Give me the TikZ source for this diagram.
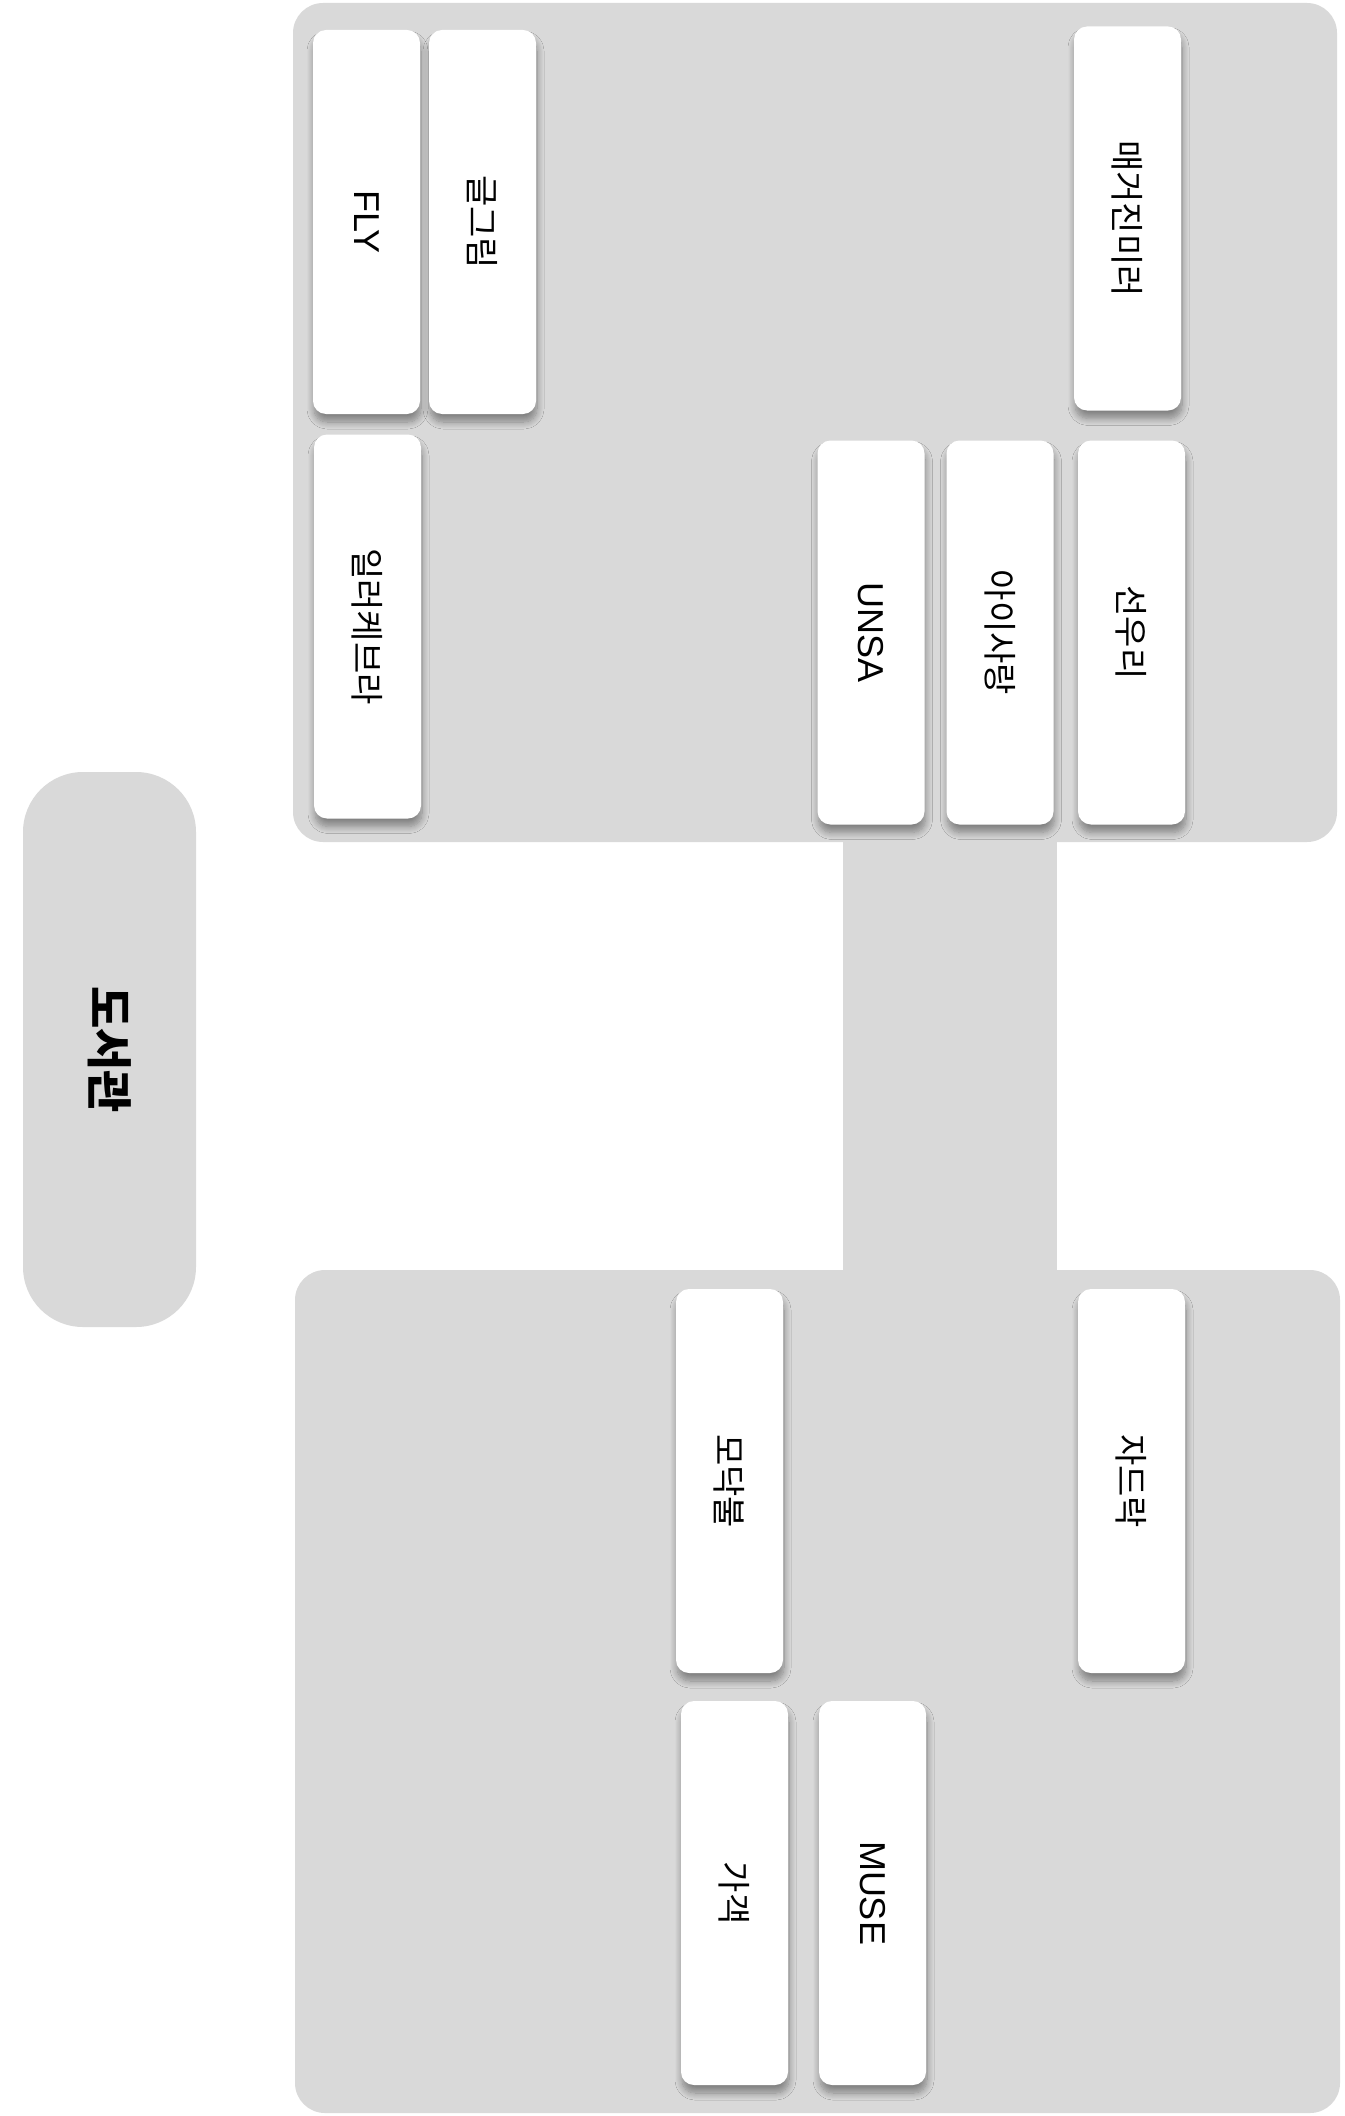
\documentclass[tikz,border=0pt]{standalone}
\usepackage{fontspec}
\setmainfont{Noto Sans CJK KR}
\newfontfamily\latinfont{Liberation Sans}
\usepackage{graphicx}
\usetikzlibrary{shadows.blur}
\definecolor{grp}{HTML}{D9D9D9}
\tikzset{
  groupbox/.style={fill=grp, draw=none, rounded corners=30pt, inner sep=0pt},
  card/.style={fill=white, draw=none, rounded corners=13pt, minimum width=107pt, minimum height=384pt, inner sep=0pt,
    font=\fontsize{34}{40}\selectfont,
    blur shadow={shadow xshift=1pt, shadow yshift=-8pt, shadow blur radius=7pt, shadow blur steps=10, shadow opacity=40}},
  latincard/.style={card, font=\fontsize{36}{42}\selectfont\latinfont},
  titlebox/.style={fill=grp, draw=none, rounded corners=60pt, minimum width=173pt, minimum height=555pt, inner sep=0pt,
    font=\fontsize{46}{54}\selectfont\bfseries},
  band/.style={draw=grp, line width=214pt}
}
\newcommand{\vtext}[1]{\rotatebox{-90}{#1}}
\begin{document}
\begin{tikzpicture}[x=1pt,y=-1pt]
\useasboundingbox (0,0) rectangle (1344,2116);
\node[titlebox] (lib) at (109.5,1049.5) {\vtext{도서관}};
\node[groupbox, minimum width=1044pt, minimum height=839pt] (topg) at (815,422.5) {};
\node[groupbox, minimum width=1045pt, minimum height=843pt] (botg) at (817.5,1691.5) {};
\coordinate (bandx) at (950,0);
\draw[band] (topg.south -| bandx) -- (botg.north -| bandx);
% top group
\node[latincard] (fly) at (366.5,222) {\vtext{FLY}};
\node[card] (geul) at (482.5,222) {\vtext{글그림}};
\node[card] (mag) at (1127.5,218.5) {\vtext{매거진미러}};
\node[card] (ill) at (367.5,626.5) {\vtext{일러케브라}};
\node[latincard] (unsa) at (871,632.5) {\vtext{UNSA}};
\node[card] (ai) at (1000,632.5) {\vtext{아이사랑}};
\node[card] (sun) at (1131.5,632.5) {\vtext{선우리}};
% bottom group
\node[card] (mo) at (729.5,1481) {\vtext{모닥불}};
\node[card] (ja) at (1131.5,1481) {\vtext{자드락}};
\node[card] (ga) at (734.5,1893) {\vtext{가객}};
\node[latincard] (muse) at (872.5,1893) {\vtext{MUSE}};
\end{tikzpicture}
\end{document}
